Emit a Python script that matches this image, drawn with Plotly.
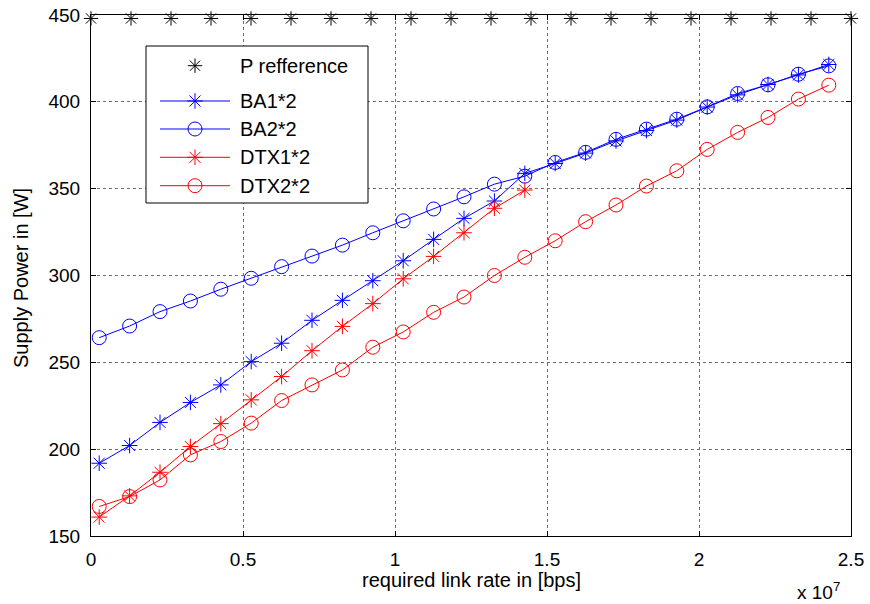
import plotly.graph_objects as go

# ---- data -------------------------------------------------------------
# required link rate [bps] for the four measured curves
rate_bps = [0.27e6, 1.27e6, 2.27e6, 3.27e6, 4.27e6, 5.27e6, 6.27e6, 7.27e6,
            8.27e6, 9.27e6, 10.27e6, 11.27e6, 12.27e6, 13.27e6, 14.27e6,
            15.27e6, 16.27e6, 17.27e6, 18.27e6, 19.27e6, 20.27e6, 21.27e6,
            22.27e6, 23.27e6, 24.27e6]

ba1 = [191.9, 202.1, 215.4, 226.9, 237.0, 250.4, 261.0, 274.2, 285.7, 297.0,
       308.5, 320.8, 332.9, 342.9, 358.8, 364.5, 370.5, 377.5, 383.5, 389.5,
       397.0, 404.0, 410.0, 415.5, 421.5]
ba2 = [264.2, 270.9, 279.2, 285.3, 292.1, 298.4, 305.1, 311.2, 317.5, 324.6,
       331.5, 338.3, 345.3, 352.6, 357.2, 365.1, 370.9, 378.4, 384.3, 390.0,
       397.1, 404.8, 409.8, 415.9, 420.7]
dtx1 = [160.9, 173.1, 186.7, 201.5, 214.7, 228.4, 241.8, 256.7, 270.7, 283.8,
        298.1, 311.0, 324.6, 338.7, 349.2]
dtx2 = [167.0, 172.7, 182.3, 196.7, 204.4, 215.0, 228.0, 237.0, 245.6, 258.7,
        267.5, 278.8, 287.6, 300.0, 310.5, 320.0, 331.0, 340.6, 351.5, 360.3,
        372.6, 382.4, 391.0, 401.6, 409.6]

# reference supply power level
pref_rate = [0, 1315789, 2631579, 3947368, 5263158, 6578947, 7894737, 9210526,
             10526316, 11842105, 13157895, 14473684, 15789474, 17105263,
             18421053, 19736842, 21052632, 22368421, 23684211, 25000000]
pref_power = [448] * len(pref_rate)

x_ticks = [0, 5e6, 10e6, 15e6, 20e6, 25e6]
x_tick_text = ["0", "0.5", "1", "1.5", "2", "2.5"]
y_ticks = [150, 200, 250, 300, 350, 400, 450]

legend_names = ["P refference", "BA1*2", "BA2*2", "DTX1*2", "DTX2*2"]

# ---- styling ----------------------------------------------------------
FONT = "Liberation Sans, Arial, Helvetica, sans-serif"
BLUE = "#0000ff"
RED = "#ff0000"
BLACK = "#000000"

W, H = 870, 604
L, R, T, B = 91, 851, 15, 536


def px_x(p):
    return (p - L) / (R - L)


def px_y(p):
    return (B - p) / (B - T)


fig = go.Figure()

fig.add_trace(go.Scatter(
    x=pref_rate, y=pref_power, mode="markers", cliponaxis=False,
    marker=dict(symbol="asterisk-open", size=12, color=BLACK,
                line=dict(color=BLACK, width=1)),
    showlegend=False))

series = [
    (ba1, BLUE, "asterisk-open", 13),
    (ba2, BLUE, "circle-open", 14),
    (dtx1, RED, "asterisk-open", 13),
    (dtx2, RED, "circle-open", 14),
]
for vals, col, sym, sz in series:
    fig.add_trace(go.Scatter(
        x=rate_bps[:len(vals)], y=vals, mode="lines+markers", cliponaxis=False,
        line=dict(color=col, width=1),
        marker=dict(symbol=sym, size=sz, color=col,
                    line=dict(color=col, width=1)),
        showlegend=False))

# ---- legend box (drawn on an overlay axis spanning the plot area) ------
box_l, box_r, box_t, box_b = px_x(146), px_x(368), px_y(46), px_y(203)
fig.add_trace(go.Scatter(
    x=[box_l, box_r, box_r, box_l, box_l],
    y=[box_t, box_t, box_b, box_b, box_t],
    xaxis="x2", yaxis="y2", mode="lines", fill="toself",
    fillcolor="white", line=dict(color=BLACK, width=1),
    hoverinfo="skip", showlegend=False, cliponaxis=False))

rows = [65.7, 101, 129, 157.3, 185.7]
legend_styles = [
    (BLACK, "asterisk-open", 12, False),
    (BLUE, "asterisk-open", 13, True),
    (BLUE, "circle-open", 14, True),
    (RED, "asterisk-open", 13, True),
    (RED, "circle-open", 14, True),
]
for row, name, (col, sym, sz, has_line) in zip(rows, legend_names, legend_styles):
    yy = px_y(row)
    if has_line:
        fig.add_trace(go.Scatter(
            x=[px_x(160), px_x(230)], y=[yy, yy], xaxis="x2", yaxis="y2",
            mode="lines", line=dict(color=col, width=1),
            hoverinfo="skip", showlegend=False, cliponaxis=False))
    fig.add_trace(go.Scatter(
        x=[px_x(195)], y=[yy], xaxis="x2", yaxis="y2", mode="markers",
        marker=dict(symbol=sym, size=sz, color=col,
                    line=dict(color=col, width=1)),
        hoverinfo="skip", showlegend=False, cliponaxis=False))
    fig.add_annotation(
        x=px_x(238), y=yy, xref="paper", yref="paper", text=name,
        showarrow=False, xanchor="left", yanchor="middle",
        font=dict(family=FONT, size=20, color=BLACK))

# ---- axes titles and exponent -----------------------------------------
fig.add_annotation(
    x=0.5, y=px_y(580), xref="paper", yref="paper",
    text="required link rate in [bps]", showarrow=False,
    xanchor="center", yanchor="middle",
    font=dict(family=FONT, size=20, color=BLACK))
fig.add_annotation(
    x=px_x(21), y=px_y(278), xref="paper", yref="paper",
    text="Supply Power in [W]", showarrow=False, textangle=-90,
    xanchor="center", yanchor="middle",
    font=dict(family=FONT, size=20, color=BLACK))
fig.add_annotation(
    x=px_x(842), y=px_y(591), xref="paper", yref="paper",
    text="x 10<sup>7</sup>", showarrow=False,
    xanchor="right", yanchor="middle",
    font=dict(family=FONT, size=19, color=BLACK))

axis_common = dict(
    showline=True, linecolor=BLACK, linewidth=1, mirror="ticks",
    ticks="inside", ticklen=5, tickwidth=1, tickcolor=BLACK,
    showgrid=True, gridcolor="#6e6e6e", gridwidth=1, griddash="dot",
    zeroline=False, automargin=False,
    tickfont=dict(family=FONT, size=19, color=BLACK),
)

fig.update_layout(
    width=W, height=H,
    margin=dict(l=L, r=W - R, t=T, b=H - B, autoexpand=False),
    paper_bgcolor="white", plot_bgcolor="white",
    showlegend=False,
    xaxis=dict(range=[0, 25e6], tickvals=x_ticks, ticktext=x_tick_text,
               ticklabelstandoff=6, **axis_common),
    yaxis=dict(range=[150, 450], tickvals=y_ticks,
               ticklabelstandoff=6, **axis_common),
    xaxis2=dict(overlaying="x", range=[0, 1], visible=False),
    yaxis2=dict(overlaying="y", range=[0, 1], visible=False),
)

fig.write_html("out.html")
